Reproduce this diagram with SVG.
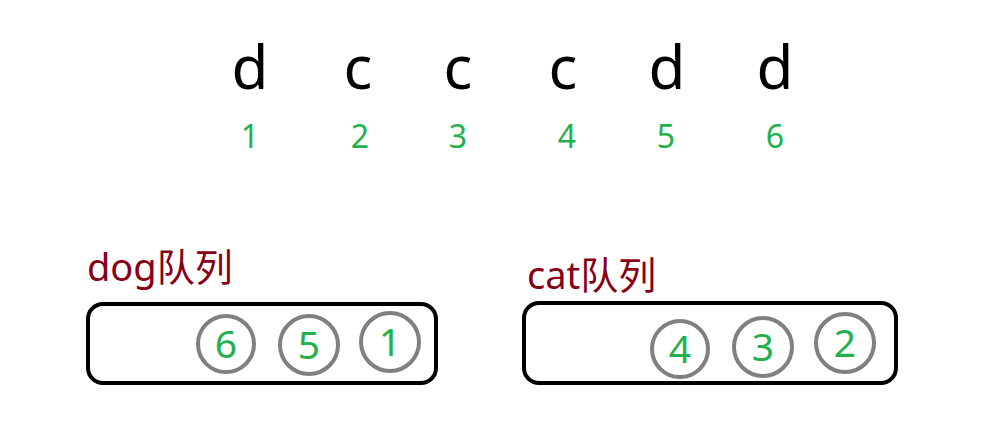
<svg xmlns="http://www.w3.org/2000/svg" width="985" height="445" viewBox="0 0 985 445">
<style>
.big{font-family:"Noto Sans","Open Sans","Noto Sans CJK SC",sans-serif;font-size:60px;fill:#000;text-anchor:middle}
.idx{font-family:"Noto Sans","Open Sans",sans-serif;font-size:32px;fill:#22B14C;text-anchor:middle}
.lbl{font-family:"Noto Sans","Noto Sans CJK SC",sans-serif;font-size:38px;fill:#880015}
.box{fill:none;stroke:#000;stroke-width:4}
.ring{fill:none;stroke:#808080;stroke-width:4}
.num{font-family:"Noto Sans","Open Sans",sans-serif;font-size:39px;fill:#22B14C;text-anchor:middle}
</style>
<rect width="985" height="445" fill="#fff"/>
<g id="sequence">
<text class="big" x="250" y="89">d</text>
<text class="big" x="358" y="89">c</text>
<text class="big" x="458" y="89">c</text>
<text class="big" x="563" y="89">c</text>
<text class="big" x="667" y="89">d</text>
<text class="big" x="775" y="89">d</text>
<text class="idx" x="250" y="148">1</text>
<text class="idx" x="360" y="148">2</text>
<text class="idx" x="458" y="148">3</text>
<text class="idx" x="567" y="148">4</text>
<text class="idx" x="666" y="148">5</text>
<text class="idx" x="775" y="148">6</text>
</g>
<g id="dog-queue">
<text class="lbl" x="87" y="281">dog队列</text>
<rect class="box" x="88" y="304" width="348" height="79" rx="15"/>
<circle class="ring" cx="226" cy="344" r="28"/>
<text class="num" x="226" y="358">6</text>
<circle class="ring" cx="309" cy="345" r="29"/>
<text class="num" x="309" y="359">5</text>
<circle class="ring" cx="390" cy="342" r="29"/>
<text class="num" x="390" y="356">1</text>
</g>
<g id="cat-queue">
<text class="lbl" x="527" y="289">cat队列</text>
<rect class="box" x="524" y="303" width="372" height="80" rx="15"/>
<circle class="ring" cx="680" cy="349" r="28"/>
<text class="num" x="680" y="363">4</text>
<circle class="ring" cx="763" cy="347" r="29"/>
<text class="num" x="763" y="361">3</text>
<circle class="ring" cx="845" cy="343" r="29"/>
<text class="num" x="845" y="357">2</text>
</g>
<g id="connectors"/>
</svg>
